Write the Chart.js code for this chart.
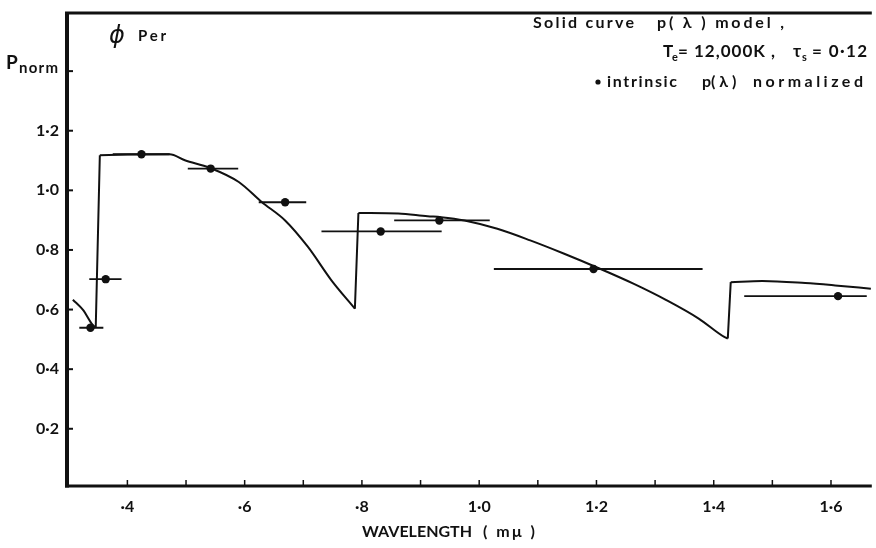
<!DOCTYPE html>
<html>
<head>
<meta charset="utf-8">
<script src="https://cdn.jsdelivr.net/npm/chart.js@4.4.1/dist/chart.umd.min.js"></script>
<style>
  html, body { margin: 0; padding: 0; background: #fff; }
  #wrap { width: 876px; height: 548px; position: relative; }
</style>
</head>
<body>
<div id="wrap"><canvas id="chart"></canvas></div>
<script>
// model curve p(lambda), wavelength in m-micron
const wlModel = [0.307, 0.325, 0.339, 0.346, 0.353, 0.400, 0.472, 0.498, 0.540, 0.590, 0.629, 0.669, 0.708, 0.748, 0.788,
  0.794, 0.862, 0.912, 0.935, 0.975, 1.031, 1.087, 1.144, 1.206, 1.263, 1.320, 1.375, 1.418, 1.424,
  1.429, 1.483, 1.556, 1.607, 1.668];
const pModel = [0.633, 0.597, 0.553, 0.539, 1.118, 1.120, 1.121, 1.101, 1.076, 1.028, 0.961, 0.899, 0.810, 0.698, 0.603,
  0.924, 0.922, 0.913, 0.910, 0.899, 0.871, 0.832, 0.788, 0.737, 0.687, 0.631, 0.569, 0.508, 0.503,
  0.692, 0.696, 0.689, 0.681, 0.670];

// intrinsic p(lambda) normalized, with filter bandwidths
const wlObs = [0.337, 0.363, 0.424, 0.542, 0.669, 0.832, 0.932, 1.195, 1.612];
const pObs  = [0.539, 0.702, 1.121, 1.073, 0.960, 0.862, 0.899, 0.736, 0.645];
const wlLo  = [0.318, 0.335, 0.375, 0.503, 0.624, 0.731, 0.855, 1.025, 1.452];
const wlHi  = [0.359, 0.390, 0.472, 0.589, 0.705, 0.936, 1.018, 1.381, 1.661];

const xTickVals = [0.4, 0.5, 0.6, 0.7, 0.8, 0.9, 1.0, 1.1, 1.2, 1.3, 1.4, 1.5, 1.6];
const xTickLabels = ['·4', '', '·6', '', '·8', '', '1·0', '', '1·2', '', '1·4', '', '1·6'];
const yTickVals = [0.2, 0.4, 0.6, 0.8, 1.0, 1.2, 1.4];
const yTickLabels = ['0·2', '0·4', '0·6', '0·8', '1·0', '1·2', ''];

const INK = '#111';
const FONT = 'Lato';

// split the model at the jumps: smooth pieces + straight risers
const curvePts = [], jumpPts = [];
wlModel.forEach((x, i) => {
  curvePts.push({ x, y: pModel[i] });
  if (i < wlModel.length - 1 && Math.abs(pModel[i + 1] - pModel[i]) > 0.15) {
    curvePts.push({ x, y: null });
    jumpPts.push({ x, y: pModel[i] }, { x: wlModel[i + 1], y: pModel[i + 1] }, { x: wlModel[i + 1], y: null });
  }
});
const obsPts = wlObs.map((x, i) => ({ x, y: pObs[i] }));
const barPts = [];
wlObs.forEach((_, i) => {
  barPts.push({ x: wlLo[i], y: pObs[i] }, { x: wlHi[i], y: pObs[i] }, { x: wlHi[i], y: null });
});

// draw text stretched so it runs from x0 to x1
function fitText(ctx, text, font, x0, x1, y) {
  ctx.font = font;
  ctx.letterSpacing = '0px';
  const w = ctx.measureText(text).width;
  const ls = text.length > 1 ? Math.max(0, (x1 - x0 - w) / (text.length - 1)) : 0;
  ctx.letterSpacing = ls.toFixed(2) + 'px';
  ctx.fillText(text, x0, y);
  ctx.letterSpacing = '0px';
}

const frame = {
  id: 'frame',
  afterDraw(chart) {
    const { ctx, chartArea: a, scales: { x, y } } = chart;
    ctx.save();
    ctx.strokeStyle = INK;
    ctx.fillStyle = INK;
    ctx.lineCap = 'butt';

    // axes box (open on the right)
    ctx.lineWidth = 4;
    ctx.beginPath(); ctx.moveTo(a.left, a.top - 1); ctx.lineTo(a.left, a.bottom + 1.5); ctx.stroke();
    ctx.lineWidth = 3;
    ctx.beginPath(); ctx.moveTo(a.left - 2, a.top); ctx.lineTo(a.right, a.top); ctx.stroke();
    ctx.beginPath(); ctx.moveTo(a.left - 2, a.bottom); ctx.lineTo(a.right, a.bottom); ctx.stroke();

    // inward tick marks
    ctx.lineWidth = 2;
    yTickVals.forEach(v => {
      const py = y.getPixelForValue(v);
      ctx.beginPath(); ctx.moveTo(a.left, py); ctx.lineTo(a.left + 6, py); ctx.stroke();
    });
    ctx.lineWidth = 1.5;
    xTickVals.forEach(v => {
      const px = x.getPixelForValue(v);
      ctx.beginPath(); ctx.moveTo(px, a.bottom); ctx.lineTo(px, a.bottom - 6); ctx.stroke();
    });

    ctx.textBaseline = 'alphabetic';
    ctx.textAlign = 'left';

    // y-axis label at the 1.4 tick
    const py14 = y.getPixelForValue(1.4);
    ctx.font = `bold 19px ${FONT}`;
    ctx.fillText('P', 6, py14 - 2);
    fitText(ctx, 'norm', `bold 15px ${FONT}`, 19, 58, py14 + 2);

    // object name
    ctx.font = `italic 24px "DejaVu Sans"`;
    ctx.fillText('ϕ', 109, 43);
    fitText(ctx, 'Per', `bold 15px ${FONT}`, 138, 166, 41);

    // key
    const kf = `bold 16px ${FONT}`;
    fitText(ctx, 'Solid curve', kf, 533, 634, 28);
    fitText(ctx, 'p( λ ) model ,', kf, 657, 784, 28);

    const big = `bold 17px ${FONT}`, sub = `bold 11px ${FONT}`;
    ctx.font = big;
    ctx.fillText('T', 663, 57);
    ctx.font = sub;
    ctx.fillText('e', 672, 61);
    fitText(ctx, '= 12,000K ,', big, 678, 775, 57);
    ctx.font = big;
    ctx.fillText('τ', 793, 57);
    ctx.font = sub;
    ctx.fillText('s', 802, 61);
    fitText(ctx, '= 0·12', big, 812, 867, 57);

    ctx.beginPath(); ctx.arc(598, 82, 2.6, 0, Math.PI * 2); ctx.fill();
    fitText(ctx, 'intrinsic', kf, 607, 677, 87);
    fitText(ctx, 'p( λ )', kf, 702, 735, 87);
    fitText(ctx, 'normalized', kf, 753, 863, 87);

    // x-axis title
    fitText(ctx, 'WAVELENGTH', `bold 16px ${FONT}`, 362, 472, 537);
    fitText(ctx, '( mμ )', `bold 16px ${FONT}`, 483, 535, 537);
    ctx.restore();
  }
};

new Chart(document.getElementById('chart'), {
  type: 'scatter',
  data: {
    datasets: [
      {
        type: 'line',
        label: 'model',
        data: curvePts,
        borderColor: INK,
        borderWidth: 2,
        pointRadius: 0,
        cubicInterpolationMode: 'monotone',
        spanGaps: false,
        fill: false
      },
      {
        type: 'line',
        label: 'jumps',
        data: jumpPts,
        borderColor: INK,
        borderWidth: 2,
        pointRadius: 0,
        tension: 0,
        spanGaps: false,
        fill: false
      },
      {
        type: 'line',
        label: 'bandwidth',
        data: barPts,
        borderColor: INK,
        borderWidth: 1.8,
        pointRadius: 0,
        spanGaps: false,
        fill: false
      },
      {
        label: 'intrinsic',
        data: obsPts,
        backgroundColor: INK,
        borderColor: INK,
        pointRadius: 4.2,
        borderWidth: 0
      }
    ]
  },
  options: {
    responsive: true,
    maintainAspectRatio: false,
    animation: false,
    layout: { padding: { top: 13, right: 0, left: 0, bottom: 0 } },
    plugins: { legend: { display: false }, tooltip: { enabled: false } },
    scales: {
      x: {
        type: 'linear',
        min: 0.297,
        max: 1.6696,
        afterBuildTicks: s => { s.ticks = xTickVals.map(v => ({ value: v })); },
        afterFit: s => { s.height = 62; s.paddingLeft = 0; s.paddingRight = 0; },
        grid: { display: false, drawTicks: false },
        border: { display: false },
        ticks: {
          autoSkip: false,
          maxRotation: 0,
          padding: 11,
          color: INK,
          font: { family: FONT, weight: 'bold', size: 16 },
          callback: (v, i) => xTickLabels[i]
        }
      },
      y: {
        min: 0.008,
        max: 1.595,
        afterBuildTicks: s => { s.ticks = yTickVals.map(v => ({ value: v })); },
        afterFit: s => { s.width = 67; s.paddingTop = 0; s.paddingBottom = 0; },
        grid: { display: false, drawTicks: false },
        border: { display: false },
        ticks: {
          autoSkip: false,
          padding: 8,
          color: INK,
          font: { family: FONT, weight: 'bold', size: 16 },
          callback: (v, i) => yTickLabels[i]
        }
      }
    }
  },
  plugins: [frame]
});
</script>
</body>
</html>
